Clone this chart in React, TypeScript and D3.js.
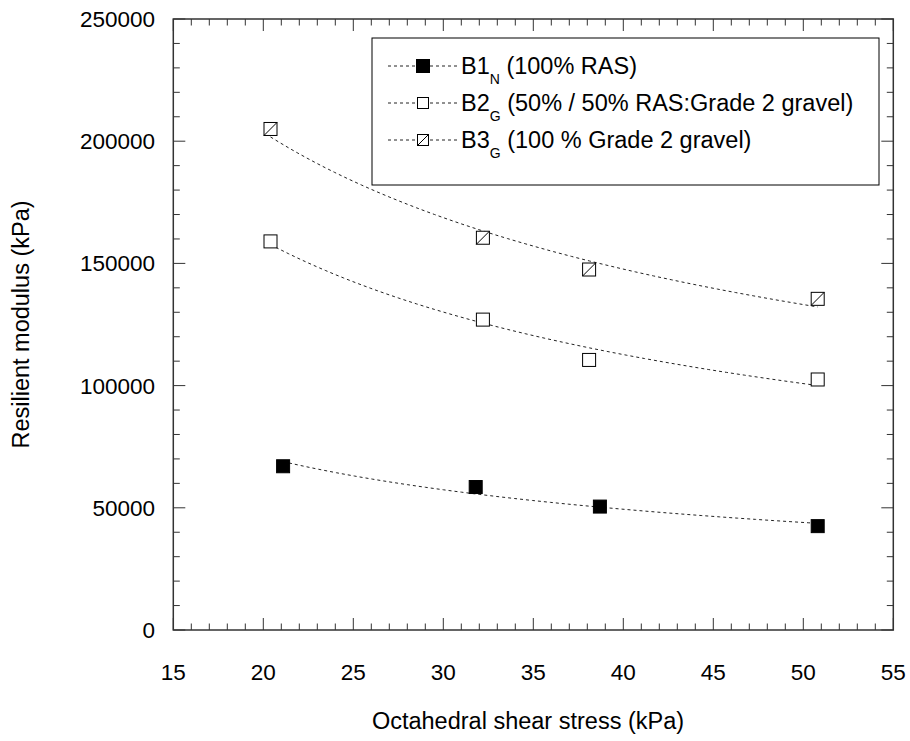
import React from 'react';
import * as d3 from 'd3';

const W = 910;
const H = 741;
const plot = { left: 173.3, right: 893.3, top: 19, bottom: 630 };

const xDomain: [number, number] = [15, 55];
const yDomain: [number, number] = [0, 250000];
const xTickValues = [15, 20, 25, 30, 35, 40, 45, 50, 55];
const yTickValues = [0, 50000, 100000, 150000, 200000, 250000];

// Octahedral shear stress (kPa) vs resilient modulus (kPa)
const b1Stress = [21.1, 31.8, 38.7, 50.8];
const b1Modulus = [67000, 58500, 50500, 42500];
const b2Stress = [20.4, 32.2, 38.1, 50.8];
const b2Modulus = [159000, 127000, 110500, 102500];
const b3Stress = [20.4, 32.2, 38.1, 50.8];
const b3Modulus = [205000, 160500, 147500, 135500];

const FONT = "'Liberation Sans', Arial, Helvetica, sans-serif";

type Kind = 'filled' | 'open' | 'hatched';

interface Series {
  key: string;
  main: string;
  sub: string;
  desc: string;
  kind: Kind;
  xs: number[];
  ys: number[];
}

const series: Series[] = [
  { key: 'b1', main: 'B1', sub: 'N', desc: ' (100% RAS)', kind: 'filled', xs: b1Stress, ys: b1Modulus },
  { key: 'b2', main: 'B2', sub: 'G', desc: ' (50% / 50% RAS:Grade 2 gravel)', kind: 'open', xs: b2Stress, ys: b2Modulus },
  { key: 'b3', main: 'B3', sub: 'G', desc: ' (100 % Grade 2 gravel)', kind: 'hatched', xs: b3Stress, ys: b3Modulus },
];

// least-squares power-law fit y = a * x^b in log space
function powerFit(xs: number[], ys: number[]) {
  const lx = xs.map(Math.log);
  const ly = ys.map(Math.log);
  const mx = d3.mean(lx)!;
  const my = d3.mean(ly)!;
  let sxy = 0;
  let sxx = 0;
  lx.forEach((v, i) => {
    sxy += (v - mx) * (ly[i] - my);
    sxx += (v - mx) * (v - mx);
  });
  const b = sxy / sxx;
  const a = Math.exp(my - b * mx);
  return (x: number) => a * Math.pow(x, b);
}

function Marker({ kind, cx, cy, size }: { kind: Kind; cx: number; cy: number; size: number }) {
  const h = size / 2;
  return (
    <g>
      <rect
        x={cx - h}
        y={cy - h}
        width={size}
        height={size}
        fill={kind === 'filled' ? '#000' : '#fff'}
        stroke="#000"
        strokeWidth={1}
      />
      {kind === 'hatched' && (
        <line x1={cx - h} y1={cy + h} x2={cx + h} y2={cy - h} stroke="#000" strokeWidth={1} />
      )}
    </g>
  );
}

export default function App() {
  const x = d3.scaleLinear().domain(xDomain).range([plot.left, plot.right]);
  const y = d3.scaleLinear().domain(yDomain).range([plot.bottom, plot.top]);

  const xMinor = d3.range(xDomain[0], xDomain[1] + 0.001, 1);
  const yMinor = d3.range(yDomain[0], yDomain[1] + 1, 10000);
  const isMajorX = (v: number) => Math.abs(v % 5) < 1e-6;
  const isMajorY = (v: number) => Math.abs(v % 50000) < 1e-6;

  const line = d3
    .line<[number, number]>()
    .x((d) => x(d[0]))
    .y((d) => y(d[1]));

  const legend = { x0: 372, y0: 38, x1: 879, y1: 185, rows: [66, 103, 140] };

  return (
    <svg
      width={W}
      height={H}
      style={{ position: 'absolute', left: 0, top: 0, background: '#fff' }}
      fontFamily={FONT}
    >
      <rect x={0} y={0} width={W} height={H} fill="#fff" />

      {/* trend curves */}
      {series.map((s) => {
        const f = powerFit(s.xs, s.ys);
        const lo = d3.min(s.xs)!;
        const hi = d3.max(s.xs)!;
        const pts: [number, number][] = d3.range(0, 61).map((i) => {
          const xv = lo + ((hi - lo) * i) / 60;
          return [xv, f(xv)];
        });
        return (
          <path
            key={s.key + '-fit'}
            d={line(pts) || ''}
            fill="none"
            stroke="#222"
            strokeWidth={1}
            strokeDasharray="3,3"
          />
        );
      })}

      {/* data markers */}
      {series.map((s) =>
        s.xs.map((xv, i) => (
          <Marker key={s.key + i} kind={s.kind} cx={x(xv)} cy={y(s.ys[i])} size={13} />
        ))
      )}

      {/* frame */}
      <rect
        x={plot.left}
        y={plot.top}
        width={plot.right - plot.left}
        height={plot.bottom - plot.top}
        fill="none"
        stroke="#333"
        strokeWidth={1.5}
      />

      {/* x ticks, bottom and top, pointing inward */}
      {xMinor.map((v) => {
        const len = isMajorX(v) ? 12 : 6.5;
        const px = x(v);
        return (
          <g key={'xt' + v} stroke="#333" strokeWidth={1}>
            <line x1={px} x2={px} y1={plot.bottom} y2={plot.bottom - len} />
            <line x1={px} x2={px} y1={plot.top} y2={plot.top + len} />
          </g>
        );
      })}

      {/* y ticks, left and right, pointing inward */}
      {yMinor.map((v) => {
        const len = isMajorY(v) ? 12 : 6.5;
        const py = y(v);
        return (
          <g key={'yt' + v} stroke="#333" strokeWidth={1}>
            <line x1={plot.left} x2={plot.left + len} y1={py} y2={py} />
            <line x1={plot.right} x2={plot.right - len} y1={py} y2={py} />
          </g>
        );
      })}

      {/* tick labels */}
      {xTickValues.map((v) => (
        <text key={'xl' + v} x={x(v)} y={680} fontSize={22.5} textAnchor="middle" fill="#000">
          {v}
        </text>
      ))}
      {yTickValues.map((v) => (
        <text key={'yl' + v} x={155} y={y(v) + 8} fontSize={22.5} textAnchor="end" fill="#000">
          {v}
        </text>
      ))}

      {/* axis titles */}
      <text x={528} y={729} fontSize={23.5} textAnchor="middle" fill="#000">
        Octahedral shear stress (kPa)
      </text>
      <text
        transform={`translate(29, ${(plot.top + plot.bottom) / 2}) rotate(-90)`}
        fontSize={23.5}
        textAnchor="middle"
        fill="#000"
      >
        Resilient modulus (kPa)
      </text>

      {/* legend */}
      <rect
        x={legend.x0}
        y={legend.y0}
        width={legend.x1 - legend.x0}
        height={legend.y1 - legend.y0}
        fill="#fff"
        stroke="#000"
        strokeWidth={1}
      />
      {series.map((s, i) => {
        const cy = legend.rows[i];
        return (
          <g key={s.key + '-leg'}>
            <line x1={388} x2={457} y1={cy} y2={cy} stroke="#222" strokeWidth={1} strokeDasharray="3,3" />
            <Marker kind={s.kind} cx={423} cy={cy} size={s.kind === 'filled' ? 13 : 11} />
            <text x={461} y={cy + 8} fontSize={23.5} fill="#000">
              {s.main}
              <tspan fontSize={14} dy={10}>
                {s.sub}
              </tspan>
              <tspan dy={-10}>{s.desc}</tspan>
            </text>
          </g>
        );
      })}
    </svg>
  );
}
